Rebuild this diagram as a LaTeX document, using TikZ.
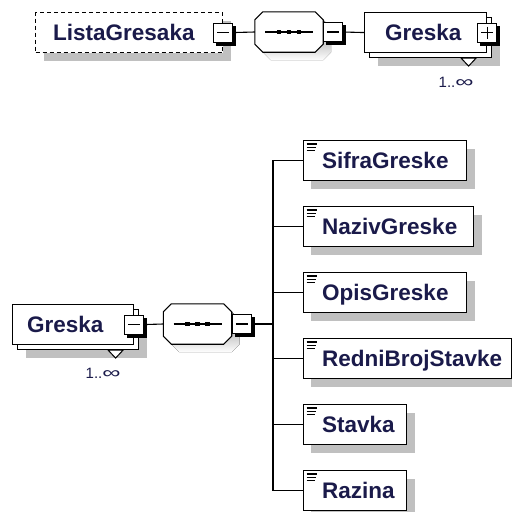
\documentclass[tikz,border=0pt]{standalone}
\usepackage{fontspec}
\setmainfont{Liberation Sans}
\usetikzlibrary{calc,shadows}
\definecolor{txt}{HTML}{1A1A4A}
\definecolor{shade}{HTML}{C0C0C0}
\newcommand\seqoct[2]{($(#1.north west)+(8+#2,#2)$) -- ($(#1.north east)+(-8+#2,#2)$) -- ($(#1.north east)+(#2,8+#2)$) -- ($(#1.south east)+(#2,-8+#2)$) -- ($(#1.south east)+(-8+#2,#2)$) -- ($(#1.south west)+(8+#2,#2)$) -- ($(#1.south west)+(#2,-8+#2)$) -- ($(#1.north west)+(#2,8+#2)$) -- cycle}
\newcommand\sqedge[1]{%
  \fill[black] ($(#1.north east)+(-0.5,3)$) rectangle ($(#1.south east)+(3,3)$);
  \fill[black] ($(#1.south west)+(3,-0.5)$) rectangle ($(#1.south east)+(3,3)$);}
\tikzset{
  gshadow/.style={drop shadow={shadow xshift=8pt,shadow yshift=-8pt,fill=shade,opacity=1}},
  box/.style={rectangle, draw=black, line width=1.1pt, fill=white, inner sep=0pt, minimum height=40pt, anchor=north west},
  ebox/.style={box, gshadow, path picture={
      \draw[line width=1.2pt]
        ($(path picture bounding box.north west)+(3.5,3.4)$) -- ++(10.5,0)
        ($(path picture bounding box.north west)+(3.5,6.8)$) -- ++(9.5,0)
        ($(path picture bounding box.north west)+(3.5,10.2)$) -- ++(8,0);}},
  lbl/.style={font=\fontsize{22.5}{26}\selectfont\bfseries, text=txt, inner sep=0pt, anchor=base west},
  mult/.style={font=\fontsize{15}{17}\selectfont, text=txt, inner sep=0pt},
  sqbox/.style={rectangle, draw=black, line width=1.1pt, fill=white, minimum size=19pt, inner sep=0pt},
  minusbox/.style={sqbox, path picture={\draw[black, line width=1.1pt]
      ($(path picture bounding box.west)+(3.5,0)$) -- ($(path picture bounding box.east)+(-3.5,0)$);}},
  plusbox/.style={sqbox, path picture={\draw[black, line width=1.1pt]
      ($(path picture bounding box.west)+(3.5,0)$) -- ($(path picture bounding box.east)+(-3.5,0)$)
      ($(path picture bounding box.north)+(0,3.5)$) -- ($(path picture bounding box.south)+(0,-3.5)$);}},
  seqbox/.style={rectangle, draw=none, minimum width=68pt, minimum height=40pt, inner sep=0pt},
  octline/.style={draw=black, fill=white, line width=1.1pt},
  conn/.style={draw=black, line width=1.1pt},
  tri/.style={draw=black, line width=1pt, fill=white}
}
\begin{document}
\begin{tikzpicture}[x=1pt,y=-1pt]
\useasboundingbox (0,0) rectangle (512,512);

% ---------- top row ----------
\node[box, dashed, dash pattern=on 4pt off 3pt, gshadow, minimum width=187pt] (lg) at (35,12) {};
\node[lbl] (lgT) at ($(lg.west)+(18,7.5)$) {ListaGresaka};
\node[minusbox] (s1) at (lg.east) {};
\sqedge{s1}

\node[seqbox] (o1) at (289,32) {};
\fill[shade] \seqoct{o1}{8};
\draw[octline] \seqoct{o1}{0};
\draw[line width=1.1pt] ($(o1.center)+(-24,0)$) -- ($(o1.center)+(24,0)$);
\foreach \dx in {-10,0,10}{
  \fill[black] ($(o1.center)+(\dx-2.4,-2.4)$) rectangle ($(o1.center)+(\dx+2.4,2.4)$);}
\node[minusbox, anchor=west] (s2) at (o1.east) {};
\sqedge{s2}

\node[box, gshadow, minimum width=122pt] (g1b) at (369,17) {};
\node[box, minimum width=122pt] (g1) at (364,12) {};
\node[lbl] (g1T) at ($(g1.west)+(21,7.5)$) {Greska};
\node[plusbox] (s3) at (g1.east) {};
\sqedge{s3}
\draw[tri] ($(g1b.south east)+(-31,0)$) -- ($(g1b.south east)+(-16,0)$) -- ($(g1b.south east)+(-23.5,8)$) -- cycle;
\node[mult] (m1) at ($(g1b.south east)+(-36,24)$) {1..\scalebox{1.7}[1.1]{∞}};

\draw[conn] (s1.east) -- (o1.west);
\draw[conn] (s2.east) -- (g1.west);

% ---------- bottom ----------
\node[box, gshadow, minimum width=121pt] (g2b) at (17,309) {};
\node[box, minimum width=121pt] (g2) at (12,304) {};
\node[lbl] (g2T) at ($(g2.west)+(15,7.5)$) {Greska};
\node[minusbox] (s4) at (g2.east) {};
\sqedge{s4}
\draw[tri] ($(g2b.south east)+(-31,0)$) -- ($(g2b.south east)+(-16,0)$) -- ($(g2b.south east)+(-23.5,8)$) -- cycle;
\node[mult] (m2) at ($(g2b.south east)+(-36,23.5)$) {1..\scalebox{1.7}[1.1]{∞}};

\node[seqbox] (o2) at (197.5,324) {};
\fill[shade] \seqoct{o2}{8};
\draw[octline] \seqoct{o2}{0};
\draw[line width=1.1pt] ($(o2.center)+(-24,0)$) -- ($(o2.center)+(24,0)$);
\foreach \dx in {-10,0,10}{
  \fill[black] ($(o2.center)+(\dx-2.4,-2.4)$) rectangle ($(o2.center)+(\dx+2.4,2.4)$);}
\node[minusbox, anchor=west] (s5) at (o2.east) {};
\sqedge{s5}

\draw[conn] (s4.east) -- (o2.west);
\coordinate (bus) at (273,324);
\draw[conn] (s5.east) -- (bus);

\node[ebox, minimum width=163.5pt] (c1) at (302.5,140) {};
\node[lbl] (c1T) at ($(c1.west)+(19.5,7.5)$) {SifraGreske};
\node[ebox, minimum width=170.5pt] (c2) at (302.5,206) {};
\node[lbl] (c2T) at ($(c2.west)+(19.5,7.5)$) {NazivGreske};
\node[ebox, minimum width=163.5pt] (c3) at (302.5,272) {};
\node[lbl] (c3T) at ($(c3.west)+(19.5,7.5)$) {OpisGreske};
\node[ebox, minimum width=208pt] (c4) at (302.5,338) {};
\node[lbl] (c4T) at ($(c4.west)+(19.5,7.5)$) {RedniBrojStavke};
\node[ebox, minimum width=103.5pt] (c5) at (302.5,404) {};
\node[lbl] (c5T) at ($(c5.west)+(19.5,7.5)$) {Stavka};
\node[ebox, minimum width=103.5pt] (c6) at (302.5,470) {};
\node[lbl] (c6T) at ($(c6.west)+(19.5,7.5)$) {Razina};

\foreach \c in {c1,c2,c3,c4,c5,c6}{
  \draw[conn] (bus) |- (\c.west);
}
\end{tikzpicture}
\end{document}
